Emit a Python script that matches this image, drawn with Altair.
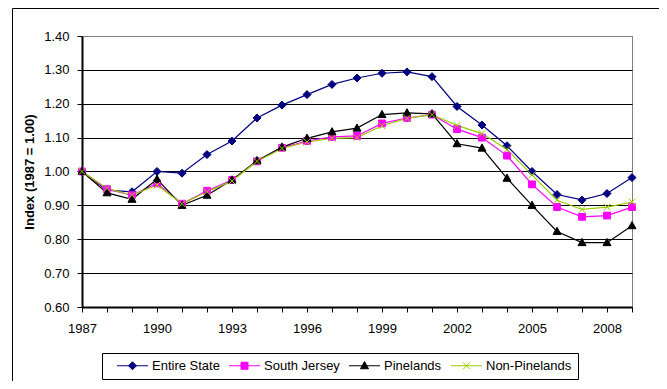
import altair as alt
import pandas as pd

FONT = "Liberation Sans"

years = list(range(1987, 2010))
series_names = ["Entire State", "South Jersey", "Pinelands", "Non-Pinelands"]
entire_state = [1.00, 0.945, 0.94, 1.00, 0.995, 1.05, 1.09, 1.158, 1.196, 1.227, 1.257, 1.276,
                1.29, 1.294, 1.28, 1.192, 1.137, 1.076, 1.00, 0.932, 0.916, 0.935, 0.982]
south_jersey = [1.00, 0.948, 0.93, 0.965, 0.905, 0.943, 0.975, 1.03, 1.07, 1.09, 1.102, 1.105,
                1.142, 1.158, 1.168, 1.125, 1.10, 1.047, 0.962, 0.895, 0.866, 0.87, 0.895]
pinelands = [1.00, 0.937, 0.918, 0.977, 0.90, 0.93, 0.975, 1.032, 1.072, 1.098, 1.117, 1.128,
             1.168, 1.173, 1.17, 1.082, 1.069, 0.98, 0.90, 0.823, 0.79, 0.79, 0.84]
non_pinelands = [1.00, 0.95, 0.93, 0.96, 0.905, 0.94, 0.972, 1.03, 1.068, 1.087, 1.098, 1.10,
                 1.135, 1.157, 1.168, 1.136, 1.112, 1.065, 0.99, 0.915, 0.888, 0.895, 0.91]
series_values = [entire_state, south_jersey, pinelands, non_pinelands]
series_colors = ["#000080", "#FF00FF", "#000000", "#99CC00"]

y_ticks = [0.6, 0.7, 0.8, 0.9, 1.0, 1.1, 1.2, 1.3, 1.4]

# marker shapes (unit box -1..1)
marker_paths = [
    "M0,-1L1,0L0,1L-1,0Z",
    "M-0.85,-0.85H0.85V0.85H-0.85Z",
    "M0,-1.05L1,0.75L-1,0.75Z",
    "M-0.85,-0.85L0.85,0.85M-0.85,0.85L0.85,-0.85",
]
# legend symbols: line segment with marker (size 100 -> 5px per unit)
legend_paths = [
    "M-3.1,0H3.1M0,-0.8L0.8,0L0,0.8L-0.8,0Z",
    "M-3.1,0H3.1M-0.7,-0.7H0.7V0.7H-0.7Z",
    "M-3.1,0H3.1M0,-0.85L0.8,0.6L-0.8,0.6Z",
    "M-3.1,0H3.1M-0.7,-0.7L0.7,0.7M-0.7,0.7L0.7,-0.7",
]

rows = []
for name, vals in zip(series_names, series_values):
    for yr, v in zip(years, vals):
        rows.append({"year": yr, "series": name, "value": v})
df = pd.DataFrame(rows)

x_enc = alt.X(
    "year:Q",
    scale=alt.Scale(domain=[1987, 2009], nice=False, zero=False),
    axis=alt.Axis(
        values=years, format="d", title=None, grid=False,
        labelExpr="((datum.value - 1987) % 3 == 0) ? datum.label : ''",
        tickSize=5, labelPadding=10, domainWidth=2, labelFlush=False, labelOverlap=False,
    ),
)
y_enc = alt.Y(
    "value:Q",
    scale=alt.Scale(domain=[0.6, 1.4], nice=False, zero=False),
    axis=alt.Axis(
        values=y_ticks, format=".2f", title="Index (1987 = 1.00)", grid=True,
        gridColor={"condition": {"test": "datum.value > 1.39", "value": "#808080"}, "value": "#000000"},
        gridWidth=1, tickSize=5, labelPadding=8, domainWidth=2, titlePadding=7,
        labelFlush=False, labelOverlap=False,
    ),
)

frame = alt.Chart(alt.Data(values=[{"k": 1}])).mark_rect(
    fill="transparent", stroke="#000000", strokeWidth=1
).encode(
    x=alt.value(-69.5), y=alt.value(-27.5), x2=alt.value(700), y2=alt.value(400)
)

lines = alt.Chart(df).mark_line(strokeWidth=1.2).encode(
    x=x_enc, y=y_enc,
    color=alt.Color("series:N", scale=alt.Scale(domain=series_names, range=series_colors), legend=None),
)

points = alt.Chart(df).mark_point(filled=True, opacity=1, size=64, strokeWidth=1).encode(
    x=x_enc, y=y_enc,
    fill=alt.Fill("series:N", scale=alt.Scale(domain=series_names, range=series_colors), legend=None),
    stroke=alt.Stroke("series:N", scale=alt.Scale(domain=series_names, range=series_colors), legend=None),
    shape=alt.Shape("series:N", scale=alt.Scale(domain=series_names, range=marker_paths), legend=None),
)

legend_layer = alt.Chart(df).transform_filter("false").mark_point(
    filled=True, opacity=1, strokeWidth=1
).encode(
    fill=alt.Fill("series:N", scale=alt.Scale(domain=series_names, range=series_colors),
                  legend=alt.Legend(title=None)),
    stroke=alt.Stroke("series:N", scale=alt.Scale(domain=series_names, range=series_colors),
                      legend=alt.Legend(title=None)),
    shape=alt.Shape("series:N", scale=alt.Scale(domain=series_names, range=legend_paths),
                    legend=alt.Legend(title=None)),
)

chart = alt.layer(frame, lines, points, legend_layer).resolve_scale(
    color="independent", fill="independent", stroke="independent", shape="independent"
).properties(
    width=550, height=271,
    autosize=alt.AutoSizeParams(type="none"),
    padding={"left": 74, "top": 28, "right": 27, "bottom": 74},
    background="white",
).configure_view(
    stroke="#808080", strokeWidth=1
).configure_axis(
    labelFont=FONT, labelFontSize=13, labelColor="#000000",
    titleFont=FONT, titleFontSize=13, titleFontWeight="bold", titleColor="#000000",
    domainColor="#000000", tickColor="#000000",
).configure_legend(
    orient="none", legendX=20, legendY=317, direction="horizontal", columns=4,
    strokeColor="#000000", fillColor="white", padding=6,
    labelFont=FONT, labelFontSize=13, labelColor="#000000",
    symbolSize=100, symbolStrokeWidth=1, symbolOffset=18, labelOffset=13, columnPadding=-3,
)

chart.save("out.html", embed_options={"renderer": "svg", "actions": False})
